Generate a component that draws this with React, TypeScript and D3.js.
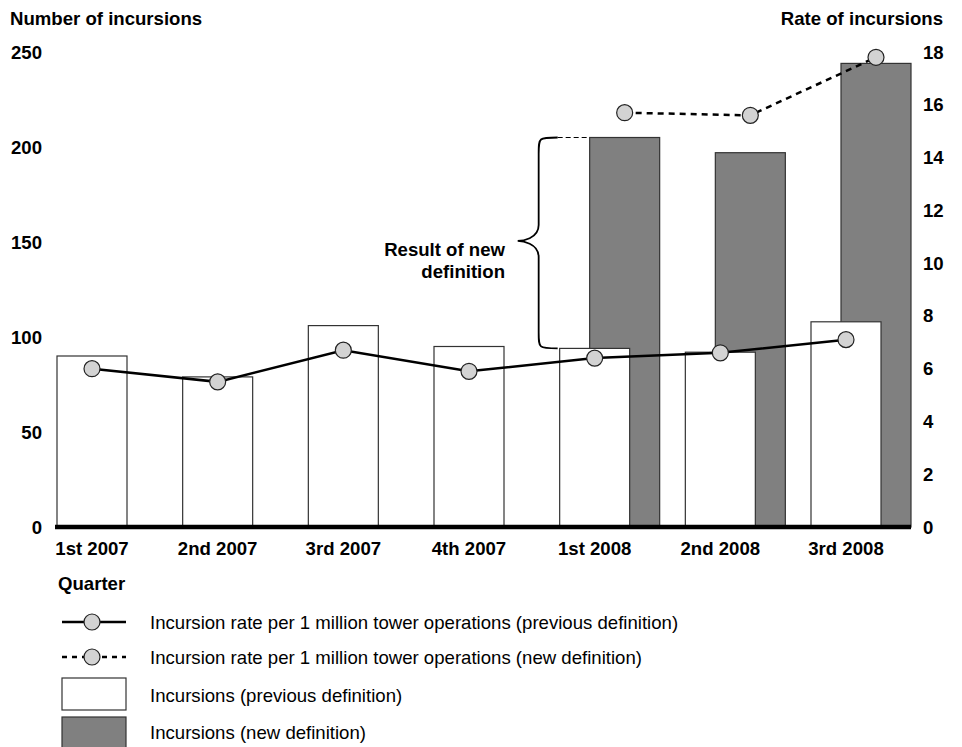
import React from "react";
import * as d3 from "d3";

const quarters = ["1st 2007", "2nd 2007", "3rd 2007", "4th 2007", "1st 2008", "2nd 2008", "3rd 2008"];
const incursionsPrev = [90, 79, 106, 95, 94, 92, 108];
const newQuarters = ["1st 2008", "2nd 2008", "3rd 2008"];
const incursionsNew = [205, 197, 244];
const ratePrev = [6.0, 5.5, 6.7, 5.9, 6.4, 6.6, 7.1];
const rateNew = [15.7, 15.6, 17.8];
const leftTicks = [0, 50, 100, 150, 200, 250];
const rightTicks = [0, 2, 4, 6, 8, 10, 12, 14, 16, 18];
const legendItems = [
  "Incursion rate per 1 million tower operations (previous definition)",
  "Incursion rate per 1 million tower operations (new definition)",
  "Incursions (previous definition)",
  "Incursions (new definition)",
];

const FONT = "'Liberation Sans', Arial, Helvetica, sans-serif";
const FS = 18.6;

export default function App() {
  const W = 962, H = 747;
  const x = d3.scalePoint<string>().domain(quarters).range([92, 846]);
  const yL = d3.scaleLinear().domain([0, 250]).range([527, 52]);
  const yR = d3.scaleLinear().domain([0, 18]).range([527, 52]);
  const bw = 70;
  const off = 30;
  const linePrev = d3.line<number>().x((_, i) => x(quarters[i])!).y((d) => yR(d));
  const lineNew = d3.line<number>().x((_, i) => x(newQuarters[i])! + off).y((d) => yR(d));

  const bTop = yL(incursionsNew[0]);
  const bBot = yL(incursionsPrev[4]);
  const bx = x(newQuarters[0])! - bw / 2 - 2;
  const bxv = bx - 19;
  const tipX = bx - 40;
  const mid = (bTop + bBot) / 2 - 2;
  const r = 16;
  const bracePath = [
    `M${bx},${bTop}`,
    `C${bxv},${bTop} ${bxv},${bTop} ${bxv},${bTop + r}`,
    `L${bxv},${mid - r}`,
    `C${bxv},${mid - 2} ${tipX + 4},${mid} ${tipX},${mid}`,
    `C${tipX + 4},${mid} ${bxv},${mid + 2} ${bxv},${mid + r}`,
    `L${bxv},${bBot - r}`,
    `C${bxv},${bBot} ${bxv},${bBot} ${bx},${bBot}`,
  ].join(" ");

  return (
    <svg width={W} height={H} style={{ position: "absolute", left: 0, top: 0, background: "#fff" }} fontFamily={FONT}>
      <rect width={W} height={H} fill="#fff" />
      <text x={10} y={18} dy="0.35em" fontSize={FS} fontWeight="bold">Number of incursions</text>
      <text x={943} y={18} dy="0.35em" fontSize={FS} fontWeight="bold" textAnchor="end">Rate of incursions</text>
      {leftTicks.map((t) => (
        <text key={"l" + t} x={42} y={yL(t)} dy="0.35em" fontSize={FS} fontWeight="bold" textAnchor="end">{t}</text>
      ))}
      {rightTicks.map((t) => (
        <text key={"r" + t} x={923} y={yR(t)} dy="0.35em" fontSize={FS} fontWeight="bold">{t}</text>
      ))}
      {newQuarters.map((q, i) => (
        <rect key={"n" + q} x={x(q)! - bw / 2 + off} y={yL(incursionsNew[i])} width={bw} height={yL(0) - yL(incursionsNew[i])} fill="#808080" stroke="#333" strokeWidth={1.2} />
      ))}
      {quarters.map((q, i) => (
        <rect key={"p" + q} x={x(q)! - bw / 2} y={yL(incursionsPrev[i])} width={bw} height={yL(0) - yL(incursionsPrev[i])} fill="#fff" stroke="#333" strokeWidth={1.2} />
      ))}
      <line x1={55} x2={911} y1={527} y2={527} stroke="#000" strokeWidth={4.5} />
      <path d={bracePath} fill="none" stroke="#000" strokeWidth={1.8} />
      <line x1={bx} x2={x(newQuarters[0])! - bw / 2 + off} y1={bTop} y2={bTop} stroke="#000" strokeWidth={1.2} strokeDasharray="5,3" />
      <text x={505} y={249} dy="0.35em" fontSize={FS} fontWeight="bold" textAnchor="end">Result of new</text>
      <text x={505} y={271} dy="0.35em" fontSize={FS} fontWeight="bold" textAnchor="end">definition</text>
      <path d={linePrev(ratePrev)!} fill="none" stroke="#000" strokeWidth={2.5} />
      <path d={lineNew(rateNew)!} fill="none" stroke="#000" strokeWidth={2.5} strokeDasharray="6,5" />
      {ratePrev.map((v, i) => (
        <circle key={"cp" + i} cx={x(quarters[i])!} cy={yR(v)} r={8} fill="#d3d3d3" stroke="#222" strokeWidth={1.2} />
      ))}
      {rateNew.map((v, i) => (
        <circle key={"cn" + i} cx={x(newQuarters[i])! + off} cy={yR(v)} r={8} fill="#d3d3d3" stroke="#222" strokeWidth={1.2} />
      ))}
      {quarters.map((q) => (
        <text key={"x" + q} x={x(q)!} y={548} dy="0.35em" fontSize={FS} fontWeight="bold" textAnchor="middle">{q}</text>
      ))}
      <text x={58} y={583} dy="0.35em" fontSize={FS} fontWeight="bold">Quarter</text>
      <g>
        <line x1={62} x2={126} y1={622} y2={622} stroke="#000" strokeWidth={2.5} />
        <circle cx={92} cy={622} r={8} fill="#d3d3d3" stroke="#222" strokeWidth={1.2} />
        <line x1={62} x2={126} y1={657} y2={657} stroke="#000" strokeWidth={2.5} strokeDasharray="5,5" />
        <circle cx={92} cy={657} r={8} fill="#d3d3d3" stroke="#222" strokeWidth={1.2} />
        <rect x={62} y={678} width={64} height={32} fill="#fff" stroke="#333" strokeWidth={1.2} />
        <rect x={62} y={717} width={64} height={34} fill="#808080" stroke="#333" strokeWidth={1.2} />
        {legendItems.map((t, i) => (
          <text key={"lg" + i} x={150} y={[622, 657, 695, 732][i]} dy="0.35em" fontSize={FS}>{t}</text>
        ))}
      </g>
    </svg>
  );
}
